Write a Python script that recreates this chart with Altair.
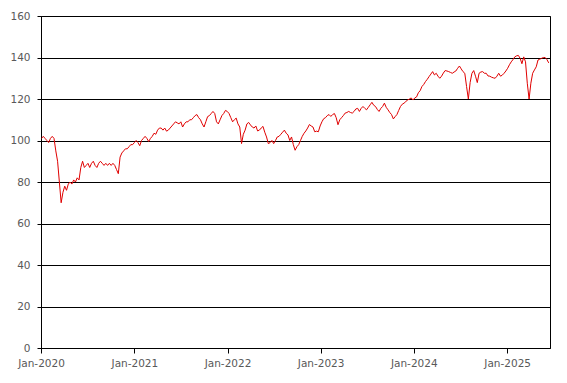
import altair as alt
import pandas as pd

# Weekly index values
v2020 = [101, 102, 101, 100, 99, 101, 102, 101, 95, 90, 80, 70, 75, 78, 76, 79, 80, 79, 81, 80,
         82, 81, 87, 90, 87, 88, 89, 87, 89, 90, 88, 87, 89, 90, 89, 88, 89, 88, 89, 88,
         89, 88, 86, 84, 92, 94, 95, 96, 96, 97, 98, 98]
v2021 = [99, 100, 99, 97.5, 100, 101, 102, 101, 99.5, 101, 102, 103.5, 103, 105, 106, 106, 105, 106, 104.5, 105,
         106, 107, 108, 109, 108.5, 108, 109, 106.5, 108, 109, 109, 110, 110, 111, 112, 112.5, 111, 110, 108, 106.5,
         109, 111.5, 112, 113, 114, 113, 109, 108, 110, 112, 113, 114.5]
v2022 = [114, 113, 111, 109, 110, 110.8, 108, 106.5, 98.5, 103, 105, 108, 108.7, 107.5, 106.5, 106, 107, 104.6, 105, 106,
         106.8, 104, 101.7, 98.5, 99, 100, 98.5, 100, 101.7, 102, 103, 104, 105, 103.5, 102.7, 100, 101.7, 98, 95.3, 97,
         98, 100, 102, 103.5, 104.6, 106, 107.7, 107, 106.5, 104.2, 104.5, 104.2]
v2023 = [107, 109, 110.5, 111, 112, 112.5, 111.6, 112.5, 113, 111, 107.6, 110, 111, 112, 113.2, 113.5, 114, 113.5, 113.2, 114,
         115.2, 115.5, 114, 115.5, 116.4, 115.5, 114.8, 116, 117.2, 118.4, 117, 116.4, 115, 114, 115.5, 116.4, 118, 116, 114.8, 113.5,
         112.5, 110.4, 111.5, 112.5, 114.5, 116.4, 117.5, 118, 118.8, 119.5, 120, 120.5]
v2024 = [119.5, 120.5, 121, 123, 124, 126, 127, 128.4, 129.5, 130.8, 132, 133.2, 131.6, 132.4, 131, 130, 131, 132.5, 133.7, 133.5,
         133.2, 132.8, 132.4, 133, 133.5, 134.8, 135.9, 134.5, 133.2, 132.4, 126, 120, 128, 132.4, 133.7, 131, 127.9, 132.4, 133, 133.2,
         132.4, 132.4, 131.1, 131, 130.5, 130.2, 130, 131, 132.4, 131, 131.5, 132.4]
v2025 = [133.5, 134.8, 136.5, 137.9, 139, 140.3, 140.8, 141, 139.6, 137, 140.3, 137.9, 127.6, 120, 127.6, 132.4, 134, 135.5, 138.8, 139.2,
         139.6, 140, 140, 139, 137.4]

values = v2020 + v2021 + v2022 + v2023 + v2024 + v2025
dates = pd.date_range("2020-01-03", periods=len(values), freq="7D")
df = pd.DataFrame({"date": dates.strftime("%Y-%m-%dT00:00:00"), "value": values})

year_ticks = [alt.DateTime(year=y, month=1, date=1) for y in range(2020, 2026)]
y_ticks = list(range(0, 161, 20))

label_font = "DejaVu Sans"

chart = alt.Chart(df).mark_line(color="#E00000", strokeWidth=1).encode(
    x=alt.X(
        "date:T",
        scale=alt.Scale(domain=[alt.DateTime(year=2020, month=1, date=1),
                                alt.DateTime(year=2025, month=6, date=18)]),
        axis=alt.Axis(
            values=year_ticks, format="%b-%Y", grid=False, title=None,
            domainColor="black", tickColor="black", tickSize=5,
            labelColor="#595959", labelFont=label_font, labelFontSize=10.5,
            labelPadding=5, labelFlush=False,
        ),
    ),
    y=alt.Y(
        "value:Q",
        scale=alt.Scale(domain=[0, 160], nice=False),
        axis=alt.Axis(
            values=y_ticks, grid=True, gridColor="black", gridOpacity=1, title=None,
            domainColor="black", tickColor="black", tickSize=4,
            labelColor="#595959", labelFont=label_font, labelFontSize=10.5,
            labelPadding=7,
        ),
    ),
).properties(
    width=509, height=332,
    autosize="none",
    padding={"left": 33, "top": 8, "right": 5, "bottom": 25},
).configure_view(stroke="black", strokeWidth=1)

chart.save("out.html", embed_options={"renderer": "svg", "actions": False})
